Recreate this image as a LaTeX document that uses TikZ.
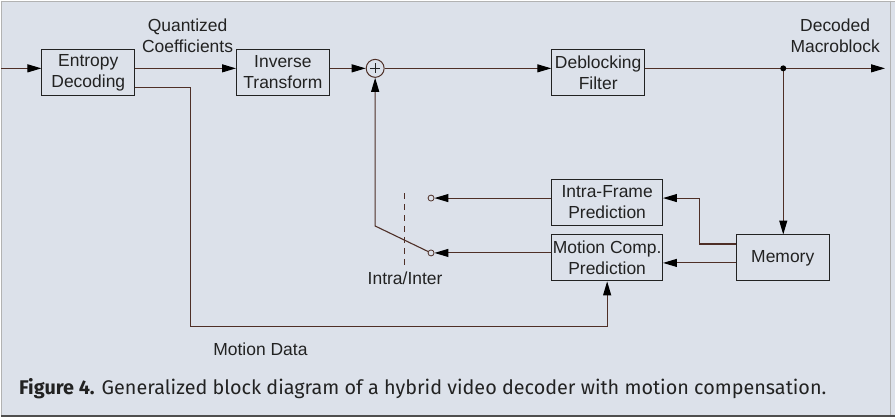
\documentclass[tikz,border=0pt]{standalone}
\usepackage{fontspec}
\setmainfont{Liberation Sans}
\newfontfamily\capfont{Fira Sans}
\usepackage{graphicx}
\usepackage{xcolor}
\usetikzlibrary{positioning, arrows.meta, calc}
\definecolor{panelbg}{HTML}{DCE1EA}
\definecolor{wirebrown}{HTML}{4E2F27}
\definecolor{inkgrey}{HTML}{222222}

\begin{document}
\begin{tikzpicture}[
    x=1pt, y=-1pt,
    font=\fontsize{17.5}{21}\selectfont,
    text=inkgrey,
    block/.style={draw=inkgrey, line width=1pt, minimum width=93pt, minimum height=46pt, inner sep=0pt, align=center},
    wide block/.style={block, minimum width=111pt},
    wire/.style={draw=wirebrown, line width=1.1pt},
    flow/.style={wire, -{Triangle[length=14pt, width=8pt, color=black]}},
    contact/.style={circle, draw=wirebrown, fill=panelbg, line width=0.8pt, inner sep=0pt, minimum size=6pt}
]
    % panel and frame
    \fill[panelbg] (0,0) rectangle (896,417);
    \draw[gray!60, line width=1pt] (0,0.5) -- (896,0.5) (1,0) -- (1,417) (891,0) -- (891,417);
    \draw[inkgrey!80, line width=2pt] (0,416) -- (896,416);

    % blocks
    \node[block] (ent) at (87.5,72) {Entropy\\Decoding};
    \node[block] (inv) at (282.5,72) {Inverse\\Transform};
    \node[circle, draw=wirebrown, line width=1pt, minimum size=18pt, inner sep=0pt] (sum) at (375,68) {};
    \draw[inkgrey, line width=0.9pt] ($(sum)+(-5,0)$) -- ($(sum)+(5,0)$) ($(sum)+(0,-5)$) -- ($(sum)+(0,5)$);
    \node[block] (dbf) at (598.5,72) {Deblocking\\Filter};
    \node[wide block] (ifp) at (607.5,202) {Intra-Frame\\Prediction};
    \node[wide block] (mcp) at (607.5,258) {Motion Comp.\\Prediction};
    \node[block] (mem) at (783.5,258) {Memory};

    % switch
    \node[contact] (intra) at (431,198) {};
    \node[contact] (inter) at (431,253) {};
    \coordinate (pivot) at (375,226);
    \draw[wire, dash pattern=on 6pt off 5pt] (404,193) -- (404,265);

    % free ends and bends
    \coordinate (in) at (0,68);
    \coordinate (tap) at (784,68);
    \coordinate (out) at (886,68);
    \coordinate (bend) at (700,198);
    \coordinate (mv) at (190,327);

    \path
        (in) edge[flow] (ent.west |- sum)
        (ent.east |- sum) edge[flow] (inv.west |- sum)
        (inv.east |- sum) edge[flow] (sum)
        (sum) edge[flow] (dbf.west |- sum)
        (tap) edge[flow] (out)
        (tap) edge[flow] (tap |- mem.north)
        (mem.south west |- 0,263) edge[flow] (mcp.east |- 0,263)
        (ifp.west |- intra) edge[flow] (intra)
        (mcp.west |- inter) edge[flow] (inter);
    \draw[wire] (dbf.east |- sum) -- (tap);
    \fill[black] (tap) circle (3pt);
    \draw[flow] (mem.west |- 0,244) -| (bend) -- (ifp.east |- bend);
    \draw[flow] (inter) -- (pivot) -- (sum);
    \draw[flow] ($(ent.south east)+(0,-8)$) -| (mv) -| (mcp.south);

    % labels
    \node[align=center] (qc) at (187,35) {Quantized\\Coefficients};
    \node[align=center] (dm) at (836,35) {Decoded\\Macroblock};
    \node (sw) at (405,278) {Intra/Inter};
    \node (md) at (260,350) {Motion Data};
    \node[anchor=west, inner sep=0pt] (cap) at (18,389) {\resizebox{809pt}{!}{\capfont\textbf{Figure 4.} Generalized block diagram of a hybrid video decoder with motion compensation.}};
\end{tikzpicture}
\end{document}
